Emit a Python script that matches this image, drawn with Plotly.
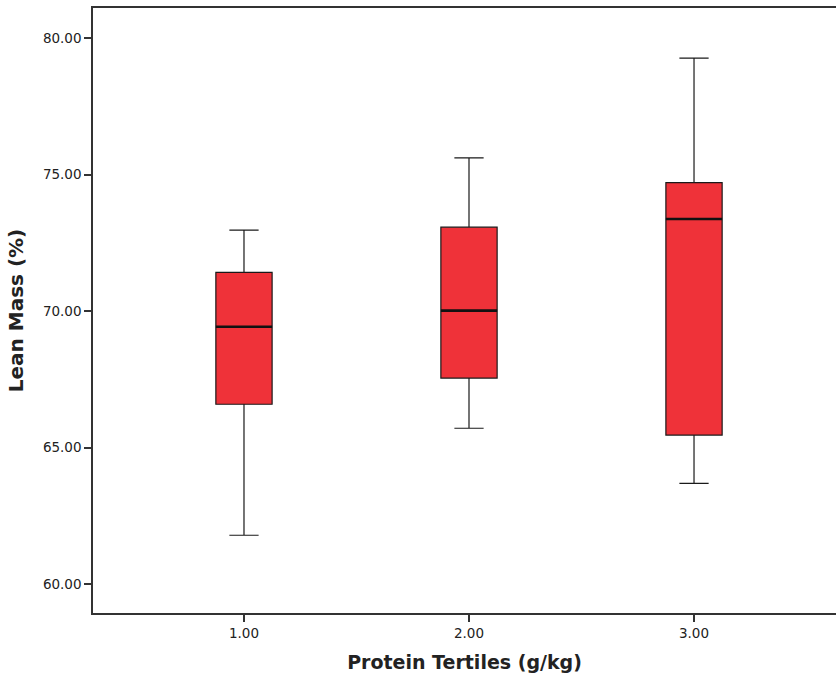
import plotly.graph_objects as go

categories = [1.0, 2.0, 3.0]
lower_whisker = [61.79, 65.71, 63.69]
q1_values = [66.59, 67.55, 65.46]
median_values = [69.43, 70.02, 73.38]
q3_values = [71.42, 73.08, 74.71]
upper_whisker = [72.97, 75.62, 79.27]
y_ticks = [60, 65, 70, 75, 80]
x_ticks = [1, 2, 3]

fig = go.Figure()
fig.add_trace(go.Box(
    x=categories,
    lowerfence=lower_whisker,
    q1=q1_values,
    median=median_values,
    q3=q3_values,
    upperfence=upper_whisker,
    width=0.25,
    whiskerwidth=0.52,
    fillcolor="#EF3239",
    line=dict(color="#1a1a1a", width=1.2),
    boxpoints=False,
    showlegend=False,
    hoverinfo="skip",
))
# thicker median line (degenerate box at the median)
fig.add_trace(go.Box(
    x=categories,
    lowerfence=median_values,
    q1=median_values,
    median=median_values,
    q3=median_values,
    upperfence=median_values,
    width=0.25,
    whiskerwidth=0,
    fillcolor="rgba(0,0,0,0)",
    line=dict(color="#111111", width=2.6),
    boxpoints=False,
    showlegend=False,
    hoverinfo="skip",
))

font_family = "DejaVu Sans, Verdana, sans-serif"
fig.update_layout(
    width=836, height=678,
    boxmode="overlay",
    margin=dict(l=93, r=0, t=8, b=65),
    paper_bgcolor="white", plot_bgcolor="white",
    font=dict(family=font_family, color="#222222"),
    xaxis=dict(
        range=[0.329, 3.631],
        tickvals=x_ticks, tickformat=".2f",
        ticks="outside", ticklen=7, tickcolor="#333333", tickwidth=1.5,
        showline=True, linecolor="#333333", linewidth=1.5, mirror=True,
        showgrid=False, zeroline=False,
        tickfont=dict(size=13.5, color="#222222"),
        title=dict(text="<b>Protein Tertiles (g/kg)</b>", font=dict(size=19, color="#222222"), standoff=16),
    ),
    yaxis=dict(
        range=[58.94, 81.11],
        tickvals=y_ticks, tickformat=".2f",
        ticks="outside", ticklen=7, tickcolor="#333333", tickwidth=1.5,
        showline=True, linecolor="#333333", linewidth=1.5,
        showgrid=False, zeroline=False,
        tickfont=dict(size=13.5, color="#222222"),
        title=dict(text="<b>Lean Mass (%)</b>", font=dict(size=20, color="#222222"), standoff=14),
    ),
)

fig.write_html(
    "out.html",
    config={"displayModeBar": False},
    post_script="document.body.style.margin='0';document.body.style.overflow='hidden';",
)
